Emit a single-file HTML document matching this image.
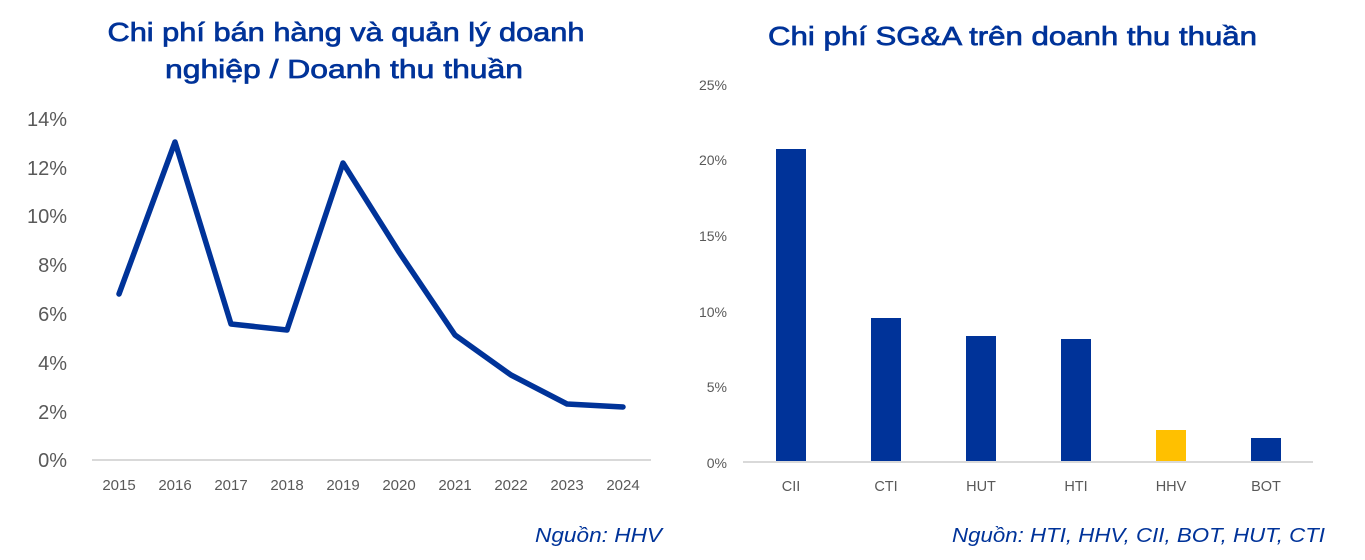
<!DOCTYPE html>
<html>
<head>
<meta charset="utf-8">
<style>
  html,body{margin:0;padding:0;background:#fff;}
  svg{display:block;}
  text{font-family:"Liberation Sans","DejaVu Sans",sans-serif;}
</style>
</head>
<body>
<svg width="1365" height="560" viewBox="0 0 1365 560" xmlns="http://www.w3.org/2000/svg">
  <rect x="0" y="0" width="1365" height="560" fill="#ffffff"/>

  <!-- Left title -->
  <g font-size="26" fill="#003399" stroke="#003399" stroke-width="0.7">
    <text x="346" y="41" text-anchor="middle" textLength="477" lengthAdjust="spacingAndGlyphs">Chi phí bán hàng và quản lý doanh</text>
    <text x="344" y="78" text-anchor="middle" textLength="358" lengthAdjust="spacingAndGlyphs">nghiệp / Doanh thu thuần</text>
    <text x="768" y="45" textLength="489" lengthAdjust="spacingAndGlyphs">Chi phí SG&amp;A trên doanh thu thuần</text>
  </g>

  <!-- Left y labels -->
  <g font-size="20" fill="#595959" text-anchor="end">
    <text x="67" y="126">14%</text>
    <text x="67" y="175">12%</text>
    <text x="67" y="223">10%</text>
    <text x="67" y="272">8%</text>
    <text x="67" y="321">6%</text>
    <text x="67" y="370">4%</text>
    <text x="67" y="419">2%</text>
    <text x="67" y="467">0%</text>
  </g>

  <!-- Left axis -->
  <line x1="92" y1="460" x2="651" y2="460" stroke="#d9d9d9" stroke-width="2"/>

  <!-- Year labels -->
  <g font-size="15" fill="#595959" text-anchor="middle">
    <text x="119" y="490">2015</text>
    <text x="175" y="490">2016</text>
    <text x="231" y="490">2017</text>
    <text x="287" y="490">2018</text>
    <text x="343" y="490">2019</text>
    <text x="399" y="490">2020</text>
    <text x="455" y="490">2021</text>
    <text x="511" y="490">2022</text>
    <text x="567" y="490">2023</text>
    <text x="623" y="490">2024</text>
  </g>

  <!-- Line series -->
  <polyline points="119,294 175,142 231,324 287,330 343,163 399,252 455,335 511,375 567,404 623,407"
    fill="none" stroke="#003399" stroke-width="5.5" stroke-linejoin="round" stroke-linecap="round"/>

  <!-- Left source -->
  <text x="662" y="542" text-anchor="end" font-size="20.5" font-style="italic" fill="#003399" textLength="127" lengthAdjust="spacingAndGlyphs">Nguồn: HHV</text>

  <!-- Right y labels -->
  <g font-size="14" fill="#595959" text-anchor="end">
    <text x="727" y="90">25%</text>
    <text x="727" y="165">20%</text>
    <text x="727" y="241">15%</text>
    <text x="727" y="317">10%</text>
    <text x="727" y="392">5%</text>
    <text x="727" y="468">0%</text>
  </g>

  <!-- Bars -->
  <g fill="#003399">
    <rect x="776" y="149" width="30" height="312"/>
    <rect x="871" y="318" width="30" height="143"/>
    <rect x="966" y="336" width="30" height="125"/>
    <rect x="1061" y="339" width="30" height="122"/>
    <rect x="1251" y="438" width="30" height="23"/>
  </g>
  <rect x="1156" y="430" width="30" height="31" fill="#ffc000"/>

  <!-- Right axis -->
  <line x1="743" y1="462" x2="1313" y2="462" stroke="#d9d9d9" stroke-width="2"/>

  <!-- Category labels -->
  <g font-size="14.5" fill="#595959" text-anchor="middle">
    <text x="791" y="491">CII</text>
    <text x="886" y="491">CTI</text>
    <text x="981" y="491">HUT</text>
    <text x="1076" y="491">HTI</text>
    <text x="1171" y="491">HHV</text>
    <text x="1266" y="491">BOT</text>
  </g>

  <!-- Right source -->
  <text x="1325" y="542" text-anchor="end" font-size="20.5" font-style="italic" fill="#003399" textLength="373" lengthAdjust="spacingAndGlyphs">Nguồn: HTI, HHV, CII, BOT, HUT, CTI</text>
</svg>
</body>
</html>
